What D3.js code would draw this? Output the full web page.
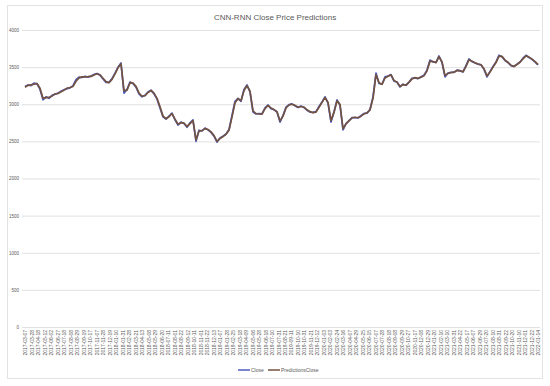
<!DOCTYPE html>
<html>
<head>
<meta charset="utf-8">
<script src="https://cdn.jsdelivr.net/npm/d3@7"></script>
<style>
  body { margin: 0; background: #fff; }
  text { font-family: "Liberation Sans Narrow", "Liberation Sans", sans-serif; fill: #595959; }
</style>
</head>
<body>
<script>
var tickDates = [
  "2017-03-07","2017-03-28","2017-04-18","2017-05-12","2017-06-02","2017-06-27","2017-07-18","2017-08-08",
  "2017-08-29","2017-09-19","2017-10-17","2017-11-07","2017-11-28","2017-12-19","2018-01-10","2018-01-31",
  "2018-02-28","2018-03-21","2018-04-13","2018-05-08","2018-05-29","2018-06-20","2018-07-11","2018-08-01",
  "2018-08-22","2018-09-12","2018-10-11","2018-11-01","2018-11-22","2018-12-13","2019-01-07","2019-01-28",
  "2019-02-25","2019-03-18","2019-04-09","2019-05-06","2019-05-28","2019-06-18","2019-07-10","2019-07-31",
  "2019-08-21","2019-09-11","2019-10-10","2019-10-31","2019-11-21","2019-12-12","2020-01-03","2020-02-03",
  "2020-02-24","2020-03-16","2020-04-07","2020-04-29","2020-05-25","2020-06-15","2020-07-07","2020-07-28",
  "2020-08-18","2020-09-08","2020-09-29","2020-10-27","2020-11-17","2020-12-08","2020-12-29","2021-01-20",
  "2021-02-10","2021-03-10","2021-03-31","2021-04-22","2021-05-17","2021-06-07","2021-06-29","2021-07-20",
  "2021-08-10","2021-08-31","2021-09-22","2021-10-20","2021-11-10","2021-12-01","2021-12-22","2022-01-14"
];

var yTicks = [0, 500, 1000, 1500, 2000, 2500, 3000, 3500, 4000];

var close = [
  3240,3260,3250,3285,3275,3200,3060,3100,3080,3120,
  3135,3150,3175,3195,3210,3220,3250,3330,3365,3360,
  3375,3365,3380,3400,3415,3390,3340,3295,3295,3345,
  3420,3500,3556,3150,3200,3300,3280,3230,3140,3100,
  3120,3165,3190,3140,3070,2950,2830,2800,2840,2880,
  2790,2720,2760,2740,2690,2750,2790,2500,2650,2640,
  2680,2655,2620,2570,2490,2545,2570,2600,2660,2850,
  3040,3080,3040,3200,3260,3165,2895,2870,2875,2870,
  2950,2990,2940,2925,2895,2760,2850,2960,2995,3005,
  2980,2955,2975,2955,2920,2895,2890,2900,2970,3030,
  3100,3015,2760,2900,3058,2990,2655,2740,2780,2820,
  2820,2815,2845,2875,2880,2930,3100,3420,3280,3270,
  3368,3380,3400,3310,3300,3233,3270,3255,3300,3350,
  3355,3345,3370,3390,3460,3596,3570,3565,3650,3560,
  3368,3420,3430,3430,3460,3450,3435,3520,3610,3575,
  3556,3540,3530,3470,3368,3440,3510,3570,3660,3640,
  3590,3560,3520,3510,3540,3570,3620,3660,3630,3605,
  3570,3530
];

var predictionsClose = [
  3230,3255,3262,3270,3280,3215,3080,3090,3092,3110,
  3140,3145,3168,3190,3215,3225,3240,3310,3355,3368,
  3370,3372,3375,3395,3410,3398,3350,3305,3290,3335,
  3410,3490,3545,3180,3190,3290,3285,3240,3150,3108,
  3115,3158,3185,3150,3080,2965,2840,2805,2832,2875,
  2800,2730,2752,2745,2700,2740,2780,2520,2640,2645,
  2672,2660,2628,2578,2500,2538,2565,2595,2650,2830,
  3020,3075,3048,3185,3250,3175,2910,2875,2870,2868,
  2940,2985,2948,2928,2900,2775,2840,2950,2990,3000,
  2985,2960,2970,2960,2925,2900,2888,2895,2960,3025,
  3090,3025,2780,2890,3045,2995,2670,2735,2775,2815,
  2825,2818,2840,2870,2885,2925,3080,3400,3290,3268,
  3355,3378,3395,3320,3298,3240,3265,3258,3295,3342,
  3358,3348,3365,3385,3450,3580,3575,3560,3640,3570,
  3385,3415,3428,3432,3455,3452,3438,3510,3600,3580,
  3560,3542,3532,3478,3380,3435,3500,3562,3648,3645,
  3595,3565,3525,3508,3535,3565,3612,3652,3635,3608,
  3575,3535
];

var series = [
  { name: "Close", values: close, color: "#4a5cc4" },
  { name: "PredictionsClose", values: predictionsClose, color: "#735241" }
];

(function() {

  var width = 550, height = 386,
      left = 25, right = 538, gridLeft = 22, gridRight = 540,
      top = 30, bottom = 327,
      svg, x, xTick, y, line, legend;

  svg = d3.select("body").append("svg")
      .attr("width", width)
      .attr("height", height);

  // card frame
  svg.append("rect")
      .attr("x", 7.5).attr("y", 5.5)
      .attr("width", 535).attr("height", 373)
      .attr("fill", "#fff")
      .attr("stroke", "#e3e3e3");

  svg.append("text")
      .attr("x", 275).attr("y", 20)
      .attr("text-anchor", "middle")
      .style("font-size", "8px")
      .text("CNN-RNN Close Price Predictions");

  y = d3.scaleLinear().domain([0, 4000]).range([bottom, top]);
  x = d3.scaleLinear().domain([0, close.length - 1]).range([left, right]);
  xTick = d3.scalePoint().domain(tickDates).range([left, right]);

  // gridlines + y labels
  var gy = svg.append("g")
      .attr("transform", "translate(" + gridLeft + ",0)")
      .call(d3.axisLeft(y).tickValues(yTicks).tickFormat(d3.format("d"))
              .tickSize(-(gridRight - gridLeft)).tickPadding(3));
  gy.select(".domain").remove();
  gy.selectAll("line").attr("stroke", "#d9d9d9").attr("stroke-width", 0.8);
  gy.selectAll("text").style("font-size", "4.5px").attr("fill", "#595959");

  // x labels
  var gx = svg.append("g")
      .attr("transform", "translate(0," + bottom + ")")
      .call(d3.axisBottom(xTick).tickSize(0).tickPadding(0));
  gx.select(".domain").remove();
  gx.selectAll("text")
      .style("font-size", "5px")
      .attr("fill", "#6a6a6a")
      .attr("text-anchor", "end")
      .attr("dy", "0.35em")
      .attr("transform", "translate(0,3) rotate(-90)");

  line = d3.line()
      .x(function(d, i) { return x(i); })
      .y(function(d) { return y(d); });

  svg.selectAll("path.series")
    .data(series)
    .enter()
    .append("path")
      .attr("class", "series")
      .attr("fill", "none")
      .attr("stroke", function(d) { return d.color; })
      .attr("stroke-width", 1.7)
      .attr("stroke-linejoin", "round")
      .attr("d", function(d) { return line(d.values); });

  // legend
  legend = svg.selectAll("g.legend")
    .data(series)
    .enter()
    .append("g")
      .attr("class", "legend")
      .attr("transform", function(d, i) { return "translate(" + (i ? 268 : 238) + ",370)"; });

  legend.append("line")
      .attr("x1", 0).attr("x2", 12)
      .attr("stroke", function(d) { return d.color; })
      .attr("stroke-width", 1.5);

  legend.append("text")
      .attr("x", 13).attr("dy", "0.35em")
      .style("font-size", "5px")
      .text(function(d) { return d.name; });

}());
</script>
</body>
</html>
